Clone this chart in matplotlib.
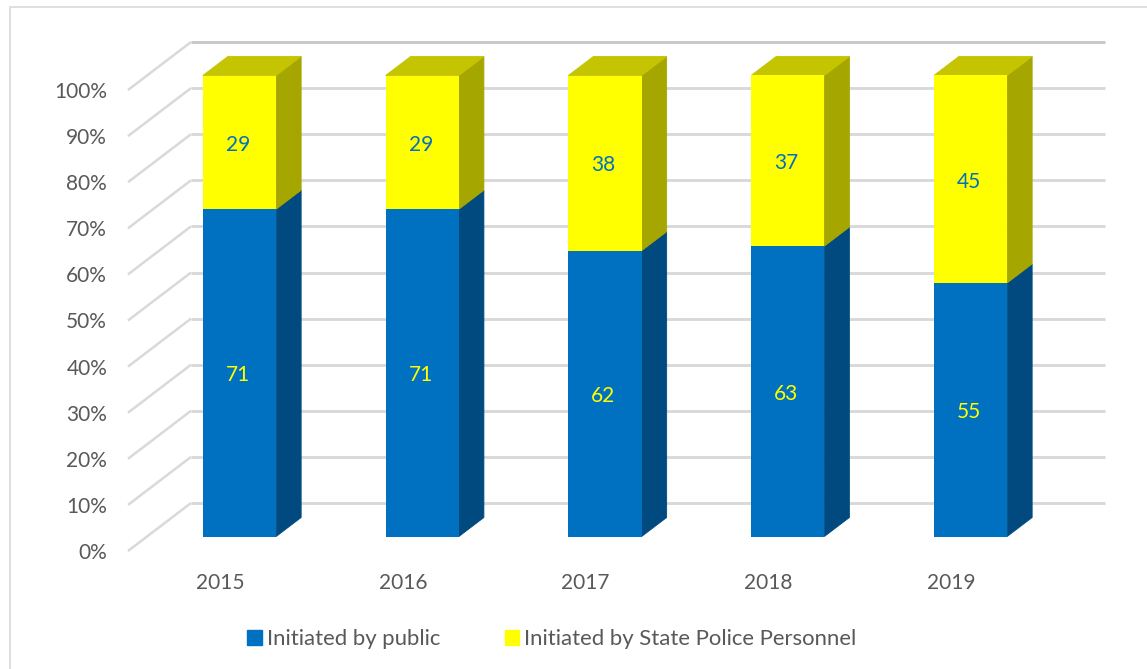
import numpy as np
import matplotlib
matplotlib.use('Agg')
import matplotlib.pyplot as plt
from matplotlib.patches import Polygon, Patch, Rectangle

plt.rcParams['font.family'] = ['Lato', 'DejaVu Sans']

years = ['2015', '2016', '2017', '2018', '2019']
public = [71, 71, 62, 63, 55]
police = [29, 29, 38, 37, 45]
y_ticks = [0, 10, 20, 30, 40, 50, 60, 70, 80, 90, 100]
y_labels = ['0%', '10%', '20%', '30%', '40%', '50%', '60%', '70%', '80%', '90%', '100%']

W, H = 1147, 669
# pixel layout of the fake 3d plot
left, right, y_bottom, y_top = 128, 1105, 551, 90
x_first, x_step = 239.5, 182.75

fig = plt.figure(figsize=(W / 100, H / 100), dpi=100)
ax = fig.add_axes([left / W, 1 - y_bottom / H, (right - left) / W, (y_bottom - y_top) / H])
ax.set_xlim((left - x_first) / x_step, (right - x_first) / x_step)
ax.set_ylim(0, 100)
ax.patch.set_visible(False)
for s in ax.spines.values():
    s.set_visible(False)

# pixels to data units
ux = 1 / x_step
uy = 100 / (y_bottom - y_top)

x = np.arange(len(years))
pub = np.array(public)
pol = np.array(police)
bar_w = 73.3 * ux
base = 14.5 * uy     # bar foot sits above the front wall edge
dx, dy = 25 * ux, 19 * uy

# side wall and back wall gridlines
wall_dx, wall_dy = 63 * ux, 48 * uy
for t in y_ticks:
    c = '#C8C8C8' if t == 100 else '#D9D9D9'
    ax.plot([ax.get_xlim()[0], ax.get_xlim()[0] + wall_dx], [t, t + wall_dy],
            color='#D9D9D9', lw=1.8, clip_on=False, zorder=1, solid_capstyle='butt')
    ax.plot([ax.get_xlim()[0] + wall_dx, ax.get_xlim()[1]], [t + wall_dy, t + wall_dy],
            color=c, lw=2.1, clip_on=False, zorder=1, solid_capstyle='butt')

blue, blue_side = '#0070C0', '#004A80'
yellow, yellow_side, yellow_top = '#FFFF00', '#A6A600', '#C4C400'

ax.bar(x, pub, width=bar_w, bottom=base, color=blue, zorder=3, clip_on=False)
ax.bar(x, pol, width=bar_w, bottom=base + pub, color=yellow, zorder=3, clip_on=False)

for i in x:
    xr = i + bar_w / 2
    xl = i - bar_w / 2
    mid = base + pub[i]
    top = mid + pol[i]
    ax.add_patch(Polygon([(xr, base), (xr + dx, base + dy), (xr + dx, mid + dy), (xr, mid)],
                         facecolor=blue_side, edgecolor=blue_side, lw=0.6, zorder=2, clip_on=False))
    ax.add_patch(Polygon([(xr, mid), (xr + dx, mid + dy), (xr + dx, top + dy), (xr, top)],
                         facecolor=yellow_side, edgecolor=yellow_side, lw=0.6, zorder=2, clip_on=False))
    ax.add_patch(Polygon([(xl, top), (xl + dx, top + dy), (xr + dx, top + dy), (xr, top)],
                         facecolor=yellow_top, edgecolor=yellow_top, lw=0.6, zorder=2, clip_on=False))
    # labels sit a touch left and low of the bar centre
    ax.text(i - 1.5 * ux, base + pub[i] / 2 - 0.5, str(public[i]), color=yellow, fontsize=15,
            ha='center', va='center', zorder=4)
    ax.text(i - 1.5 * ux, mid + pol[i] / 2 - 0.5, str(police[i]), color=blue, fontsize=15,
            ha='center', va='center', zorder=4)

ax.set_yticks(y_ticks, y_labels)
ax.set_xticks(x - 19.5 * ux, years)
ax.tick_params(axis='both', length=0, labelcolor='#595959', labelsize=15)
ax.tick_params(axis='y', pad=15)
ax.tick_params(axis='x', pad=16)

handles = [Patch(color=blue, label='Initiated by public'),
           Patch(color=yellow, label='Initiated by State Police Personnel')]
fig.legend(handles=handles, loc='center', bbox_to_anchor=(552 / W, 1 - 639 / H), ncols=2, frameon=False,
           fontsize=15.9, labelcolor='#595959', handlelength=0.64, handleheight=0.64,
           handletextpad=0.23, columnspacing=2.95, borderpad=0)

# chart frame, runs off the image right and bottom
fig.add_artist(Rectangle((9.5 / W, -0.05), 1.1, 1.05 - 6.5 / H, transform=fig.transFigure,
                         fill=False, edgecolor='#D9D9D9', lw=1.2))

fig.savefig('out.png', dpi=100)
